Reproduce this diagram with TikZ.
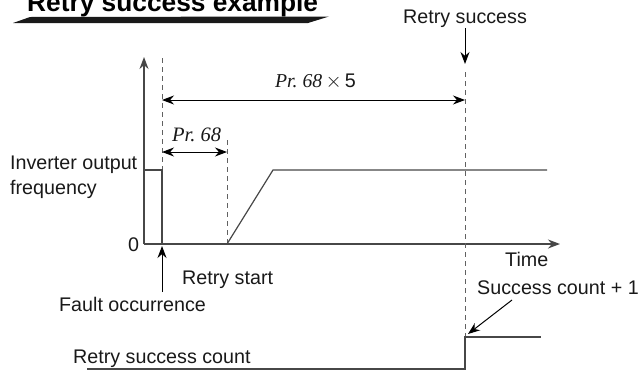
\documentclass[tikz,border=0pt]{standalone}
\usepackage{fontspec}
\setmainfont{Liberation Sans}
\newfontfamily\prfont{Liberation Serif}
\usetikzlibrary{arrows.meta, positioning}

\begin{document}
\begin{tikzpicture}[
  x=1pt, y=-1pt,
  >={Stealth[length=12pt,width=9pt]},
  axis/.style={draw=black!72, line width=1.3pt},
  signal/.style={draw=black!72, line width=1.2pt},
  guide/.style={draw=black!62, line width=0.9pt, dash pattern=on 5pt off 4pt},
  arrow/.style={->, line width=1pt},
  dblarrow/.style={<->, line width=1pt},
  txt/.style={font=\fontsize{19.7}{22}\selectfont, inner sep=0pt, anchor=base west, text=black!90},
  prtxt/.style={txt, font=\fontsize{20.5}{22}\selectfont\prfont\itshape},
  titletxt/.style={txt, font=\fontsize{26.3}{28}\selectfont\bfseries, text=black}
]
  \useasboundingbox (0,0) rectangle (639,370);

  % title with banner
  \node[titletxt] (title) at (27,11) {Retry success example};
  \fill[black!90] (13,23) -- (30,17) -- (329,16.5) -- (308,23) -- cycle;

  % key points
  \coordinate (o) at (144,244);
  \coordinate (ytop) at (144,57);
  \coordinate (xend) at (560,244);
  \coordinate (f0) at (162,58);
  \coordinate (f1) at (162,244);
  \coordinate (r0) at (227,140);
  \coordinate (r1) at (227,244);
  \coordinate (s0) at (465,72);
  \coordinate (s1) at (465,337);

  % axes
  \draw[axis, ->] (o) -- (ytop);
  \draw[axis, ->] (o) -- (xend);

  % dashed time marks
  \draw[guide] (f0) -- (f1);
  \draw[guide] (r0) -- (r1);
  \draw[guide] (s0) -- (s1);

  % output frequency
  \draw[signal] (144,170) -- (162,170) -- (f1);
  \draw[signal] (r1) -- (273,170) -- (547,170);

  % success count
  \draw[signal] (87,369) -- (465,369) -- (s1) -- (541,337);

  % time spans
  \draw[dblarrow] (162,100) -- (465,100);
  \draw[dblarrow] (162,152) -- (227,152);
  \node[txt] (span5) at (275,87) {{\prfont\itshape Pr.~68}\,$\times$\,5};
  \node[prtxt] (span1) at (172,141) {Pr.~68};

  % labels
  \node[txt] (success) at (403,23.5) {Retry success};
  \node[txt] (freq1) at (10,169) {Inverter output};
  \node[txt] (freq2) at (10,194) {frequency};
  \node[txt] (zero) at (128,251) {0};
  \node[txt] (time) at (505,266) {Time};
  \node[txt] (start) at (182,284) {Retry start};
  \node[txt] (fault) at (59,311) {Fault occurrence};
  \node[txt] (plus) at (477,294) {Success count + 1};
  \node[txt] (count) at (73,363) {Retry success count};

  % pointers
  \coordinate (sa0) at (465,28);
  \coordinate (sa1) at (465,64);
  \coordinate (fa0) at (162,292);
  \coordinate (fa1) at (162,246);
  \coordinate (pa0) at (512,300);
  \coordinate (pa1) at (468,334);
  \draw[arrow] (sa0) -- (sa1);
  \draw[arrow] (fa0) -- (fa1);
  \draw[arrow] (pa0) -- (pa1);
\end{tikzpicture}
\end{document}
